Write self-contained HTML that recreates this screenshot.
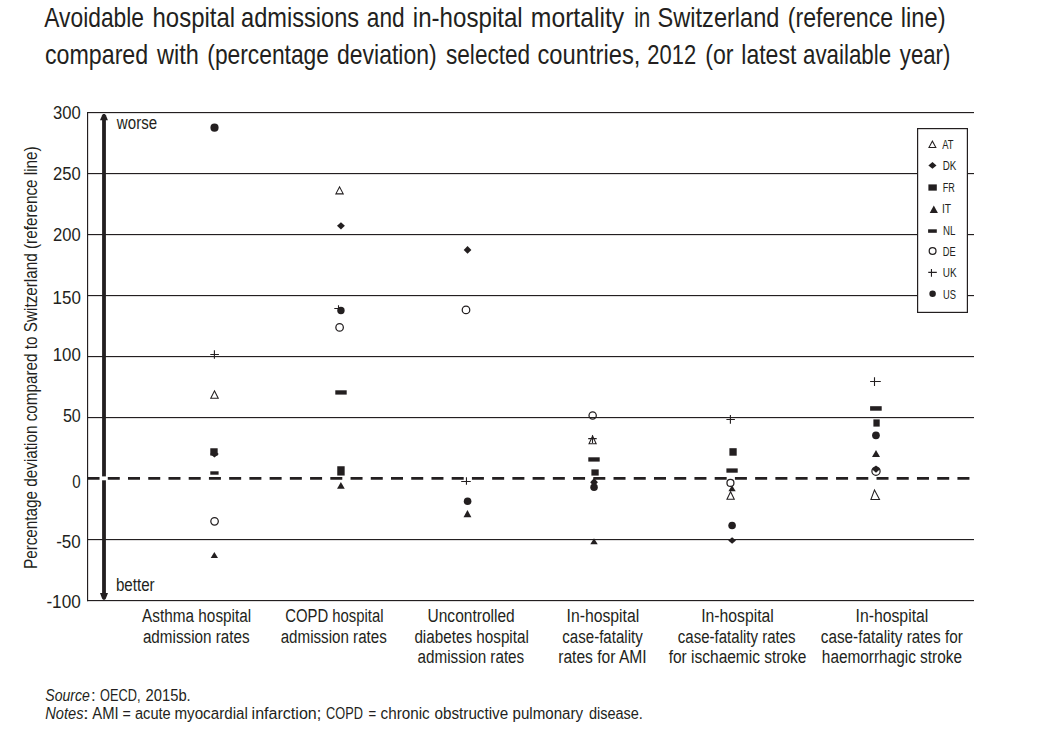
<!DOCTYPE html>
<html><head><meta charset="utf-8"><title>Avoidable hospital admissions and in-hospital mortality</title>
<style>html,body{margin:0;padding:0;background:#fff;}svg{display:block;}</style></head>
<body><svg width="1054" height="741" viewBox="0 0 1054 741">
<rect width="1054" height="741" fill="#fff"/>
<rect x="87" y="112" width="887" height="1.15" fill="#231f20"/>
<rect x="87" y="173" width="887" height="1.15" fill="#231f20"/>
<rect x="87" y="234" width="887" height="1.15" fill="#231f20"/>
<rect x="87" y="295" width="887" height="1.15" fill="#231f20"/>
<rect x="87" y="356" width="887" height="1.15" fill="#231f20"/>
<rect x="87" y="417" width="887" height="1.15" fill="#231f20"/>
<rect x="87" y="539" width="887" height="1.15" fill="#231f20"/>
<rect x="87" y="600" width="887" height="1.15" fill="#231f20"/>
<rect x="87" y="112" width="1.15" height="489.2" fill="#231f20"/>
<rect x="102.1" y="118.5" width="3.8" height="476" fill="#231f20"/>
<path d="M100.0 120.3 L107.9 120.3 L105.9 115.2 L104.9 113.9 L103.0 113.9 L102.1 115.2 Z" fill="#231f20"/>
<path d="M100.0 593.1 L108.0 593.1 L105.9 598.6 L104.9 599.8 L103.1 599.8 L102.1 598.6 Z" fill="#231f20"/>
<rect x="101" y="476.4" width="6" height="3.9" fill="#fff"/>
<line x1="87.55" y1="478.42" x2="970" y2="478.42" stroke="#231f20" stroke-width="2.7" stroke-dasharray="12.0 8.23"/>
<path d="M214.50 389.75L219.10 398.70L209.90 398.70ZM214.50 392.05L211.62 397.65L217.38 397.65Z" fill="#231f20" fill-rule="evenodd"/>
<path d="M214.45 450.40L218.75 453.99L214.45 457.57L210.16 453.99Z" fill="#231f20"/>
<rect x="210.30" y="448.27" width="7.36" height="7.31" fill="#231f20"/>
<path d="M214.35 552.00L218.00 558.10L210.70 558.10Z" fill="#231f20"/>
<rect x="210.30" y="471.30" width="8.30" height="3.40" fill="#231f20"/>
<circle cx="214.56" cy="521.29" r="3.75" fill="none" stroke="#231f20" stroke-width="1.25"/>
<path d="M210.30 354.50H218.90M214.40 350.20V358.80" stroke="#231f20" stroke-width="1.10" fill="none"/>
<circle cx="214.50" cy="127.65" r="4.08" fill="#231f20"/>
<path d="M339.55 185.65L344.10 194.40L335.00 194.40ZM339.55 187.93L336.73 193.35L342.37 193.35Z" fill="#231f20" fill-rule="evenodd"/>
<path d="M340.95 222.20L344.90 225.85L340.95 229.50L337.00 225.85Z" fill="#231f20"/>
<rect x="337.26" y="466.25" width="7.40" height="9.30" fill="#231f20"/>
<path d="M340.90 482.00L344.75 488.70L337.05 488.70Z" fill="#231f20"/>
<rect x="335.30" y="390.30" width="11.40" height="4.30" fill="#231f20"/>
<circle cx="339.60" cy="327.45" r="3.75" fill="none" stroke="#231f20" stroke-width="1.25"/>
<path d="M334.30 308.50H342.80M338.50 305.30V312.80" stroke="#231f20" stroke-width="1.10" fill="none"/>
<circle cx="340.95" cy="310.45" r="3.70" fill="#231f20"/>
<path d="M467.55 246.10L471.40 249.90L467.55 253.70L463.70 249.90Z" fill="#231f20"/>
<path d="M467.45 509.90L471.40 517.20L463.50 517.20Z" fill="#231f20"/>
<circle cx="466.00" cy="309.90" r="3.77" fill="none" stroke="#231f20" stroke-width="1.25"/>
<path d="M461.19 481.47H470.78M466.46 477.22V484.78" stroke="#231f20" stroke-width="1.10" fill="none"/>
<circle cx="467.60" cy="501.30" r="3.80" fill="#231f20"/>
<path d="M592.60 434.85L597.00 444.30L588.20 444.30ZM592.60 437.34L589.85 443.25L595.35 443.25Z" fill="#231f20" fill-rule="evenodd"/>
<path d="M594.05 477.90L597.90 482.35L594.05 486.80L590.20 482.35Z" fill="#231f20"/>
<rect x="591.40" y="469.40" width="7.30" height="6.20" fill="#231f20"/>
<path d="M594.00 538.20L597.70 544.20L590.30 544.20Z" fill="#231f20"/>
<rect x="588.30" y="457.30" width="11.40" height="4.30" fill="#231f20"/>
<circle cx="592.65" cy="415.50" r="3.65" fill="none" stroke="#231f20" stroke-width="1.25"/>
<path d="M588.20 438.60H596.70M592.50 435.30V443.00" stroke="#231f20" stroke-width="1.10" fill="none"/>
<circle cx="594.05" cy="487.25" r="3.75" fill="#231f20"/>
<path d="M730.60 490.55L735.10 499.70L726.10 499.70ZM730.60 492.93L727.79 498.65L733.41 498.65Z" fill="#231f20" fill-rule="evenodd"/>
<path d="M732.10 537.20L736.00 540.45L732.10 543.70L728.20 540.45Z" fill="#231f20"/>
<rect x="729.40" y="448.20" width="7.30" height="7.50" fill="#231f20"/>
<path d="M732.05 485.20L735.70 491.20L728.40 491.20Z" fill="#231f20"/>
<rect x="726.40" y="468.40" width="11.30" height="4.30" fill="#231f20"/>
<circle cx="730.45" cy="482.95" r="3.48" fill="none" stroke="#231f20" stroke-width="1.25"/>
<path d="M726.40 419.50H734.90M730.40 415.10V423.70" stroke="#231f20" stroke-width="1.10" fill="none"/>
<circle cx="732.10" cy="525.53" r="3.79" fill="#231f20"/>
<path d="M874.40 488.65L880.40 500.00L870.16 500.00ZM874.56 491.21L871.67 498.95L878.66 498.95Z" fill="#231f20" fill-rule="evenodd"/>
<path d="M876.00 465.60L880.00 469.15L876.00 472.70L872.00 469.15Z" fill="#231f20"/>
<rect x="873.40" y="419.40" width="6.30" height="7.20" fill="#231f20"/>
<path d="M876.00 450.00L880.00 456.90L872.00 456.90Z" fill="#231f20"/>
<rect x="870.10" y="406.20" width="11.60" height="4.50" fill="#231f20"/>
<circle cx="876.00" cy="471.15" r="4.10" fill="none" stroke="#231f20" stroke-width="1.25"/>
<path d="M870.10 381.50H880.80M874.50 377.30V385.90" stroke="#231f20" stroke-width="1.10" fill="none"/>
<circle cx="875.95" cy="435.30" r="3.88" fill="#231f20"/>
<rect x="917.6" y="128.6" width="49.8" height="183.8" fill="#fff" stroke="#231f20" stroke-width="1.2"/>
<path d="M932.40 140.05L936.70 147.90L928.10 147.90ZM932.40 142.13L929.79 146.90L935.01 146.90Z" fill="#231f20" fill-rule="evenodd"/>
<path d="M932.45 162.00L936.50 165.40L932.45 168.80L928.40 165.40Z" fill="#231f20"/>
<rect x="928.40" y="184.40" width="8.40" height="6.25" fill="#231f20"/>
<path d="M933.80 205.60L937.90 212.90L929.70 212.90Z" fill="#231f20"/>
<rect x="928.10" y="229.30" width="8.70" height="3.50" fill="#231f20"/>
<circle cx="932.60" cy="250.95" r="3.40" fill="none" stroke="#231f20" stroke-width="1.25"/>
<path d="M928.25 272.40H936.80M931.46 269.00V276.70" stroke="#231f20" stroke-width="1.10" fill="none"/>
<circle cx="932.60" cy="293.75" r="3.23" fill="#231f20"/>
<g font-family="'Liberation Sans', Arial, Helvetica, sans-serif" fill="#231f20">
<text x="44.30" y="27.00" font-size="28" textLength="99.77" lengthAdjust="spacingAndGlyphs">Avoidable</text>
<text x="152.54" y="27.00" font-size="28" textLength="82.60" lengthAdjust="spacingAndGlyphs">hospital</text>
<text x="241.06" y="27.00" font-size="28" textLength="118.09" lengthAdjust="spacingAndGlyphs">admissions</text>
<text x="366.79" y="27.00" font-size="28" textLength="37.89" lengthAdjust="spacingAndGlyphs">and</text>
<text x="412.84" y="27.00" font-size="28" textLength="109.91" lengthAdjust="spacingAndGlyphs">in-hospital</text>
<text x="530.82" y="27.00" font-size="28" textLength="93.38" lengthAdjust="spacingAndGlyphs">mortality</text>
<text x="634.17" y="27.00" font-size="28" textLength="15.99" lengthAdjust="spacingAndGlyphs">in</text>
<text x="657.56" y="27.00" font-size="28" textLength="121.87" lengthAdjust="spacingAndGlyphs">Switzerland</text>
<text x="787.77" y="27.00" font-size="28" textLength="105.30" lengthAdjust="spacingAndGlyphs">(reference</text>
<text x="900.85" y="27.00" font-size="28" textLength="44.77" lengthAdjust="spacingAndGlyphs">line)</text>
<text x="44.97" y="64.10" font-size="28" textLength="103.23" lengthAdjust="spacingAndGlyphs">compared</text>
<text x="157.04" y="64.10" font-size="28" textLength="41.78" lengthAdjust="spacingAndGlyphs">with</text>
<text x="207.29" y="64.10" font-size="28" textLength="121.68" lengthAdjust="spacingAndGlyphs">(percentage</text>
<text x="336.98" y="64.10" font-size="28" textLength="99.71" lengthAdjust="spacingAndGlyphs">deviation)</text>
<text x="446.00" y="64.10" font-size="28" textLength="84.17" lengthAdjust="spacingAndGlyphs">selected</text>
<text x="537.45" y="64.10" font-size="28" textLength="102.96" lengthAdjust="spacingAndGlyphs">countries,</text>
<text x="647.32" y="64.10" font-size="28" textLength="48.83" lengthAdjust="spacingAndGlyphs">2012</text>
<text x="705.27" y="64.10" font-size="28" textLength="28.29" lengthAdjust="spacingAndGlyphs">(or</text>
<text x="741.28" y="64.10" font-size="28" textLength="55.04" lengthAdjust="spacingAndGlyphs">latest</text>
<text x="803.00" y="64.10" font-size="28" textLength="88.15" lengthAdjust="spacingAndGlyphs">available</text>
<text x="899.80" y="64.10" font-size="28" textLength="50.55" lengthAdjust="spacingAndGlyphs">year)</text>
<text transform="translate(37.00 569.04) rotate(-90)" x="0" y="0" font-size="18.2" textLength="422.73" lengthAdjust="spacingAndGlyphs">Percentage deviation compared to Switzerland (reference line)</text>
<text x="53.00" y="118.80" font-size="17.8" textLength="27.80" lengthAdjust="spacingAndGlyphs">300</text>
<text x="53.10" y="179.80" font-size="17.8" textLength="27.70" lengthAdjust="spacingAndGlyphs">250</text>
<text x="53.10" y="240.80" font-size="17.8" textLength="27.70" lengthAdjust="spacingAndGlyphs">200</text>
<text x="52.54" y="303.50" font-size="17.8" textLength="28.35" lengthAdjust="spacingAndGlyphs">150</text>
<text x="52.65" y="361.30" font-size="17.8" textLength="28.14" lengthAdjust="spacingAndGlyphs">100</text>
<text x="62.90" y="421.80" font-size="17.8" textLength="17.90" lengthAdjust="spacingAndGlyphs">50</text>
<text x="72.30" y="488.00" font-size="17.8" textLength="8.41" lengthAdjust="spacingAndGlyphs">0</text>
<text x="56.20" y="547.60" font-size="17.8" textLength="24.59" lengthAdjust="spacingAndGlyphs">-50</text>
<text x="46.40" y="607.90" font-size="17.8" textLength="34.39" lengthAdjust="spacingAndGlyphs">-100</text>
<text x="116.86" y="128.50" font-size="17.6" textLength="40.22" lengthAdjust="spacingAndGlyphs">worse</text>
<text x="115.94" y="590.50" font-size="17.6" textLength="38.74" lengthAdjust="spacingAndGlyphs">better</text>
<text x="142.10" y="621.90" font-size="17.6" textLength="109.09" lengthAdjust="spacingAndGlyphs">Asthma hospital</text>
<text x="142.90" y="642.90" font-size="17.6" textLength="106.72" lengthAdjust="spacingAndGlyphs">admission rates</text>
<text x="285.20" y="621.90" font-size="17.6" textLength="98.27" lengthAdjust="spacingAndGlyphs">COPD hospital</text>
<text x="280.70" y="642.90" font-size="17.6" textLength="106.13" lengthAdjust="spacingAndGlyphs">admission rates</text>
<text x="427.52" y="621.90" font-size="17.6" textLength="87.18" lengthAdjust="spacingAndGlyphs">Uncontrolled</text>
<text x="414.40" y="642.90" font-size="17.6" textLength="114.49" lengthAdjust="spacingAndGlyphs">diabetes hospital</text>
<text x="417.50" y="662.90" font-size="17.6" textLength="106.72" lengthAdjust="spacingAndGlyphs">admission rates</text>
<text x="566.50" y="621.90" font-size="17.6" textLength="72.71" lengthAdjust="spacingAndGlyphs">In-hospital</text>
<text x="562.30" y="642.90" font-size="17.6" textLength="80.43" lengthAdjust="spacingAndGlyphs">case-fatality</text>
<text x="558.22" y="662.90" font-size="17.6" textLength="88.46" lengthAdjust="spacingAndGlyphs">rates for AMI</text>
<text x="701.21" y="621.90" font-size="17.6" textLength="72.61" lengthAdjust="spacingAndGlyphs">In-hospital</text>
<text x="677.80" y="642.90" font-size="17.6" textLength="117.83" lengthAdjust="spacingAndGlyphs">case-fatality rates</text>
<text x="668.70" y="662.90" font-size="17.6" textLength="137.79" lengthAdjust="spacingAndGlyphs">for ischaemic stroke</text>
<text x="855.50" y="621.90" font-size="17.6" textLength="72.81" lengthAdjust="spacingAndGlyphs">In-hospital</text>
<text x="820.80" y="642.90" font-size="17.6" textLength="141.98" lengthAdjust="spacingAndGlyphs">case-fatality rates for</text>
<text x="821.83" y="662.90" font-size="17.6" textLength="140.16" lengthAdjust="spacingAndGlyphs">haemorrhagic stroke</text>
<text x="942.20" y="148.80" font-size="12" textLength="11.28" lengthAdjust="spacingAndGlyphs">AT</text>
<text x="942.80" y="170.00" font-size="12" textLength="13.60" lengthAdjust="spacingAndGlyphs">DK</text>
<text x="942.80" y="191.80" font-size="12" textLength="12.05" lengthAdjust="spacingAndGlyphs">FR</text>
<text x="941.94" y="212.70" font-size="12" textLength="9.18" lengthAdjust="spacingAndGlyphs">IT</text>
<text x="943.00" y="235.00" font-size="12" textLength="12.44" lengthAdjust="spacingAndGlyphs">NL</text>
<text x="942.80" y="255.90" font-size="12" textLength="12.90" lengthAdjust="spacingAndGlyphs">DE</text>
<text x="942.80" y="276.60" font-size="12" textLength="13.80" lengthAdjust="spacingAndGlyphs">UK</text>
<text x="943.00" y="298.60" font-size="12" textLength="13.00" lengthAdjust="spacingAndGlyphs">US</text>
<text x="45.30" y="700.60" font-size="16.0" font-style="italic" textLength="44.61" lengthAdjust="spacingAndGlyphs">Source</text>
<text x="91.05" y="700.60" font-size="16.0" textLength="4.67" lengthAdjust="spacingAndGlyphs">:</text>
<text x="100.10" y="700.60" font-size="16.0" textLength="40.35" lengthAdjust="spacingAndGlyphs">OECD,</text>
<text x="145.60" y="700.60" font-size="16.0" textLength="45.13" lengthAdjust="spacingAndGlyphs">2015b.</text>
<text x="45.30" y="718.70" font-size="16.0" font-style="italic" textLength="38.20" lengthAdjust="spacingAndGlyphs">Notes</text>
<text x="83.10" y="718.70" font-size="16.0" textLength="5.78" lengthAdjust="spacingAndGlyphs">:</text>
<text x="92.30" y="718.70" font-size="16.0" textLength="26.34" lengthAdjust="spacingAndGlyphs">AMI</text>
<text x="122.60" y="718.70" font-size="16.0" textLength="8.31" lengthAdjust="spacingAndGlyphs">=</text>
<text x="135.00" y="718.70" font-size="16.0" textLength="35.71" lengthAdjust="spacingAndGlyphs">acute</text>
<text x="174.45" y="718.70" font-size="16.0" textLength="73.37" lengthAdjust="spacingAndGlyphs">myocardial</text>
<text x="251.60" y="718.70" font-size="16.0" textLength="69.65" lengthAdjust="spacingAndGlyphs">infarction;</text>
<text x="326.10" y="718.70" font-size="16.0" textLength="36.84" lengthAdjust="spacingAndGlyphs">COPD</text>
<text x="368.60" y="718.70" font-size="16.0" textLength="7.68" lengthAdjust="spacingAndGlyphs">=</text>
<text x="380.60" y="718.70" font-size="16.0" textLength="49.10" lengthAdjust="spacingAndGlyphs">chronic</text>
<text x="434.50" y="718.70" font-size="16.0" textLength="73.70" lengthAdjust="spacingAndGlyphs">obstructive</text>
<text x="512.56" y="718.70" font-size="16.0" textLength="70.54" lengthAdjust="spacingAndGlyphs">pulmonary</text>
<text x="588.90" y="718.70" font-size="16.0" textLength="54.01" lengthAdjust="spacingAndGlyphs">disease.</text>
</g>
</svg></body></html>
